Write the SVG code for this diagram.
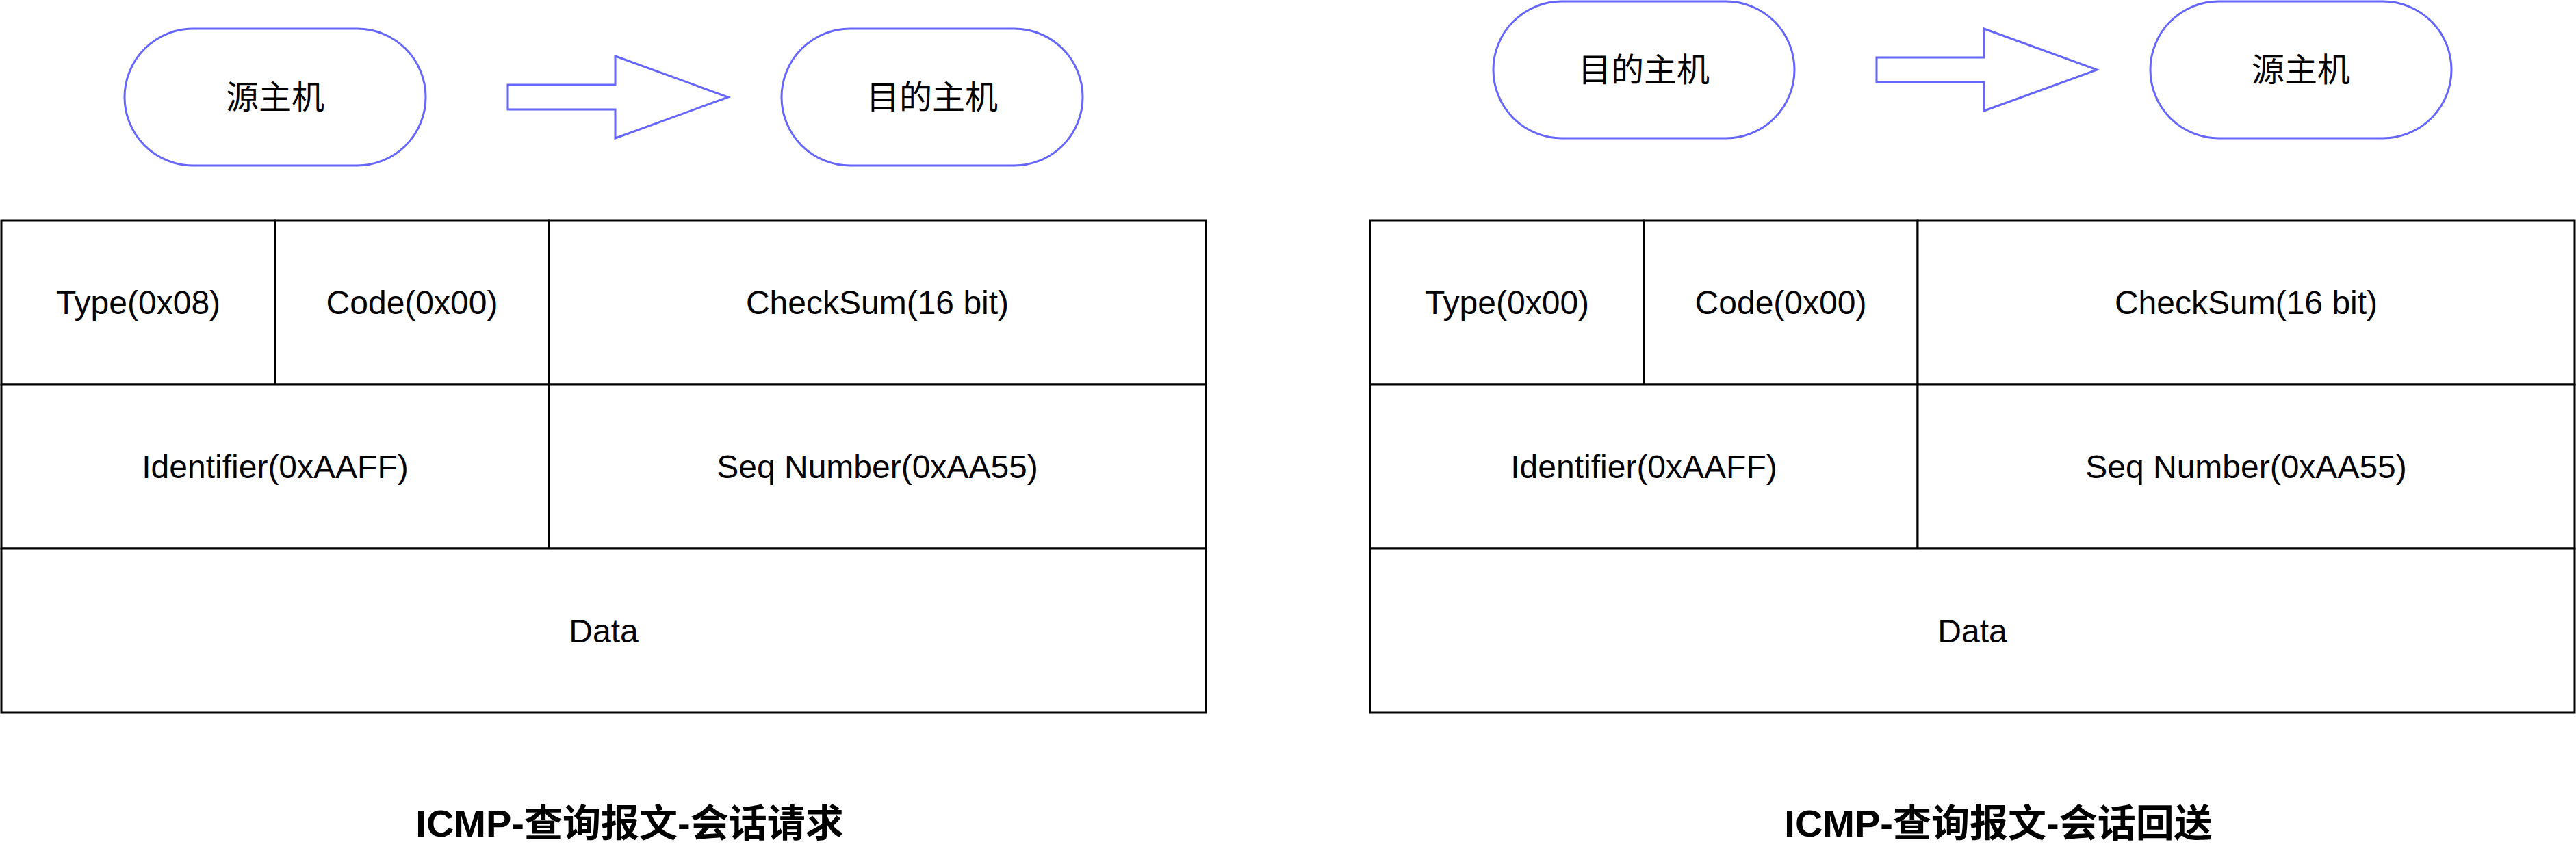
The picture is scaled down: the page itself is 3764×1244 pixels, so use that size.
<svg xmlns="http://www.w3.org/2000/svg" width="3764" height="1244" viewBox="0 0 3764 1244">
<style>
.host{fill:#ffffff;stroke:#6666ff;stroke-width:3}
.arrow{fill:#ffffff;stroke:#6666ff;stroke-width:3;stroke-linejoin:miter}
.cell{fill:#ffffff;stroke:#000000;stroke-width:3}
.t{font-family:"Liberation Sans","Noto Sans CJK SC",sans-serif;font-size:48px;fill:#000000;text-anchor:middle}
.title{font-family:"Liberation Sans","Noto Sans CJK SC",sans-serif;font-size:56px;font-weight:bold;fill:#000000;text-anchor:middle}
</style>
<rect width="3764" height="1244" fill="#ffffff"/>
<g id="connectors">
<polygon class="arrow" points="742,124 899,124 899,82 1064,142 899,202 899,160 742,160"/>
<polygon class="arrow" points="2742,84 2899,84 2899,42 3064,102 2899,162 2899,120 2742,120"/>
</g>
<g id="req-src"><rect class="host" x="182" y="42" width="440" height="200" rx="100" ry="100"/><text class="t" x="402" y="159">源主机</text></g>
<g id="req-dst"><rect class="host" x="1142" y="42" width="440" height="200" rx="100" ry="100"/><text class="t" x="1362" y="159">目的主机</text></g>
<g id="rep-src"><rect class="host" x="2182" y="2" width="440" height="200" rx="100" ry="100"/><text class="t" x="2402" y="119">目的主机</text></g>
<g id="rep-dst"><rect class="host" x="3142" y="2" width="440" height="200" rx="100" ry="100"/><text class="t" x="3362" y="119">源主机</text></g>
<g id="req-type"><rect class="cell" x="2" y="322" width="400" height="240"/><text class="t" x="202" y="459">Type(0x08)</text></g>
<g id="req-code"><rect class="cell" x="402" y="322" width="400" height="240"/><text class="t" x="602" y="459">Code(0x00)</text></g>
<g id="req-checksum"><rect class="cell" x="802" y="322" width="960" height="240"/><text class="t" x="1282" y="459">CheckSum(16 bit)</text></g>
<g id="req-id"><rect class="cell" x="2" y="562" width="800" height="240"/><text class="t" x="402" y="699">Identifier(0xAAFF)</text></g>
<g id="req-seq"><rect class="cell" x="802" y="562" width="960" height="240"/><text class="t" x="1282" y="699">Seq Number(0xAA55)</text></g>
<g id="req-data"><rect class="cell" x="2" y="802" width="1760" height="240"/><text class="t" x="882" y="939">Data</text></g>
<g id="rep-type"><rect class="cell" x="2002" y="322" width="400" height="240"/><text class="t" x="2202" y="459">Type(0x00)</text></g>
<g id="rep-code"><rect class="cell" x="2402" y="322" width="400" height="240"/><text class="t" x="2602" y="459">Code(0x00)</text></g>
<g id="rep-checksum"><rect class="cell" x="2802" y="322" width="960" height="240"/><text class="t" x="3282" y="459">CheckSum(16 bit)</text></g>
<g id="rep-id"><rect class="cell" x="2002" y="562" width="800" height="240"/><text class="t" x="2402" y="699">Identifier(0xAAFF)</text></g>
<g id="rep-seq"><rect class="cell" x="2802" y="562" width="960" height="240"/><text class="t" x="3282" y="699">Seq Number(0xAA55)</text></g>
<g id="rep-data"><rect class="cell" x="2002" y="802" width="1760" height="240"/><text class="t" x="2882" y="939">Data</text></g>
<g id="req-title"><text class="title" x="920" y="1223">ICMP-查询报文-会话请求</text></g>
<g id="rep-title"><text class="title" x="2920" y="1223">ICMP-查询报文-会话回送</text></g>
</svg>
